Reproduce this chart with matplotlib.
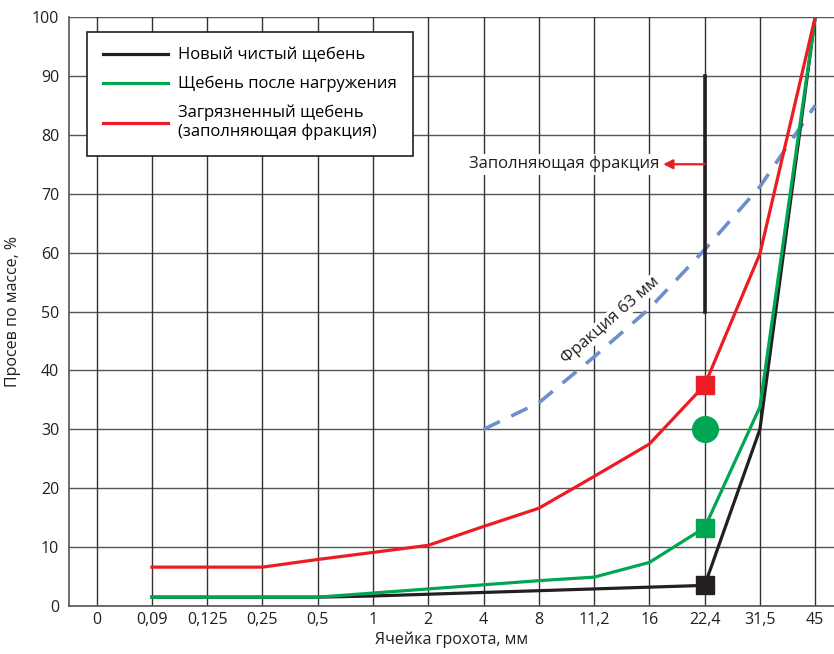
import matplotlib.pyplot as plt
import numpy as np

plt.rcParams['font.family'] = ['Open Sans', 'DejaVu Sans']

# Категории ячеек грохота
sieves = ["0", "0,09", "0,125", "0,25", "0,5", "1", "2", "4", "8", "11,2", "16", "22,4", "31,5", "45"]

# Просев по массе, % (с 0,09 мм)
new_clean = [1.5, 1.5, 1.5, 1.5, 1.7, 2.0, 2.3, 2.6, 2.9, 3.2, 3.5, 30, 100]
after_load = [1.5, 1.5, 1.5, 1.5, 2.2, 2.9, 3.6, 4.3, 4.9, 7.4, 13.3, 33.8, 100]
dirty = [6.6, 6.6, 6.6, 7.9, 9.1, 10.3, 13.5, 16.6, 22.0, 27.5, 37.5, 59.8, 100]

# Фракция 63 мм (с 4 мм)
frac63 = [30, 34.5, 42.3, 50.5, 60.5, 71.2, 85]

# Отдельные точки на 22,4 мм
circle_val = 30
bar_range = [50, 90]
arrow_y = 75

x = np.arange(len(sieves))
x_data = x[1:]
x_frac = x[sieves.index("4"):]
i224 = sieves.index("22,4")

fig, ax = plt.subplots(figsize=(8.34, 6.54), dpi=100)
fig.subplots_adjust(left=69/834, right=1.0, bottom=1 - 606/654, top=1 - 17/654)

for v in range(0, 101, 10):
    ax.axhline(v, color='#555555', lw=1.0, zorder=1)
for xi in x:
    ax.axvline(xi, color='#333333', lw=1.0, zorder=1)

ax.plot(x_frac, frac63, color='#6f8fcc', lw=2.6, dashes=(5, 3.5), zorder=2)

ax.plot(x_data, new_clean, color='#231f20', lw=2.3, zorder=3, label='Новый чистый щебень')
ax.plot(x_data, after_load, color='#00a651', lw=2.3, zorder=3, label='Щебень после нагружения')
ax.plot(x_data, dirty, color='#ed1c24', lw=2.3, zorder=3, label='Загрязненный щебень\n(заполняющая фракция)')

ax.plot([i224], [new_clean[i224 - 1]], 's', color='#231f20', ms=13.5, zorder=4)
ax.plot([i224], [after_load[i224 - 1]], 's', color='#00a651', ms=13.5, zorder=4)
ax.plot([i224], [dirty[i224 - 1]], 's', color='#ed1c24', ms=13.5, zorder=4)
ax.plot([i224], [circle_val], 'o', color='#00a651', ms=18.5, zorder=4)

ax.plot([i224, i224], bar_range, color='#231f20', lw=2.6, zorder=3)
ax.annotate('', xy=(i224 - 0.75, arrow_y), xytext=(i224, arrow_y),
            arrowprops=dict(arrowstyle='-|>', color='#ed1c24', lw=1.6,
                            mutation_scale=14, shrinkA=0, shrinkB=0), zorder=4)
ax.text(i224 - 0.82, arrow_y, 'Заполняющая фракция', ha='right', va='center', fontsize=12,
        color='#231f20', bbox=dict(facecolor='white', edgecolor='none', pad=1.5), zorder=4)

ax.text(9.3, 48.5, 'Фракция 63 мм', rotation=41, ha='center', va='center', fontsize=12,
        color='#231f20', bbox=dict(facecolor='white', edgecolor='none', pad=0.5), zorder=4,
        rotation_mode='anchor')

ax.set_xlim(-0.5, 13.34)
ax.set_ylim(0, 100)
ax.set_xticks(x)
ax.set_xticklabels(sieves)
ax.set_yticks(range(0, 101, 10))
ax.tick_params(length=0, labelsize=11.5, colors='#231f20', pad=7)
ax.tick_params(axis='x', pad=4)
for s in ['top', 'right']:
    ax.spines[s].set_visible(False)
for s in ['left', 'bottom']:
    ax.spines[s].set_color('#555555')
    ax.spines[s].set_linewidth(1.2)

ax.set_xlabel('Ячейка грохота, мм', fontsize=11.5, color='#231f20', labelpad=3)
ax.set_ylabel('Просев по массе, %', fontsize=11.5, color='#231f20', labelpad=8)

leg = ax.legend(loc='upper left', bbox_to_anchor=(0.0235, 0.975), fontsize=12,
                fancybox=False, framealpha=1, edgecolor='#231f20', handlelength=3.9,
                borderpad=0.95, labelspacing=0.75, handletextpad=0.6, borderaxespad=0)
leg.get_frame().set_linewidth(1.2)
leg.set_zorder(5)

plt.savefig('out.png', dpi=100)
